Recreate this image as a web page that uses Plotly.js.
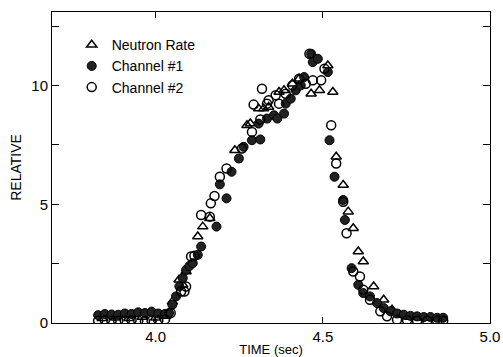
<!DOCTYPE html>
<html>
<head>
<meta charset="utf-8">
<script src="https://cdn.plot.ly/plotly-3.0.1.min.js"></script>
<style>html,body{margin:0;padding:0;background:#fff;}#chart{width:503px;height:357px;}</style>
</head>
<body>
<div id="chart"></div>
<script>
// Neutron Rate (open triangles)
const neutronX = [3.84,3.88,3.92,3.96,4.00,4.03,4.05,4.07,4.081,4.091,4.126,4.141,4.162,4.237,4.273,4.283,4.308,4.323,4.338,4.369,4.384,4.409,4.429,4.465,4.49,4.515,4.53,4.54,4.561,4.576,4.591,4.606,4.621,4.652,4.682,4.707,4.73,4.76,4.79,4.82];
const neutronY = [0.2,0.22,0.2,0.25,0.22,0.3,0.9,1.82,1.61,2.17,3.64,4.06,4.41,7.28,8.33,8.40,9.03,9.03,9.10,9.73,9.80,10.08,10.29,9.66,9.80,10.85,9.73,7.00,5.81,4.69,3.99,3.01,2.59,1.54,0.98,0.56,0.35,0.25,0.22,0.21];

// Channel #1 (filled circles)
const ch1X = [3.828,3.848,3.868,3.888,3.908,3.928,3.948,3.968,3.988,4.008,4.028,4.04,4.05,4.061,4.071,4.081,4.091,4.101,4.111,4.126,4.136,4.182,4.192,4.212,4.227,4.249,4.263,4.288,4.313,4.308,4.333,4.354,4.364,4.384,4.389,4.404,4.419,4.434,4.444,4.465,4.47,4.485,4.515,4.52,4.535,4.561,4.566,4.586,4.606,4.621,4.641,4.662,4.682,4.702,4.722,4.742,4.762,4.782,4.802,4.822,4.842,4.86];
const ch1Y = [0.33,0.38,0.36,0.35,0.40,0.38,0.45,0.42,0.48,0.40,0.38,0.42,0.77,1.12,1.54,1.89,2.24,2.40,2.52,2.87,3.22,4.06,5.84,5.25,6.37,6.93,7.42,7.70,7.73,8.40,8.61,8.75,8.61,8.82,9.24,9.45,9.80,10.01,10.36,11.34,10.99,11.13,10.57,7.70,6.16,5.18,4.34,2.31,1.61,1.26,1.12,0.84,0.63,0.49,0.40,0.35,0.30,0.28,0.25,0.25,0.22,0.22];

// Channel #2 (open circles)
const ch2X = [3.828,3.848,3.868,3.888,3.908,3.928,3.948,3.968,3.988,4.008,4.028,4.045,4.076,4.086,4.091,4.106,4.116,4.136,4.162,4.165,4.176,4.192,4.212,4.258,4.288,4.293,4.313,4.318,4.333,4.338,4.359,4.369,4.389,4.409,4.429,4.449,4.46,4.47,4.495,4.505,4.525,4.54,4.561,4.571,4.591,4.611,4.621,4.641,4.672,4.692,4.722,4.752,4.782,4.812,4.842,4.86];
const ch2Y = [0.10,0.12,0.08,0.10,0.10,0.12,0.10,0.08,0.10,0.12,0.15,0.42,1.33,1.33,1.54,2.80,2.83,4.55,4.48,5.04,5.35,6.16,6.51,7.35,8.05,9.20,8.57,9.87,9.24,9.38,9.59,9.24,9.66,10.01,10.29,10.08,11.34,10.22,10.22,10.71,8.33,6.72,5.11,3.78,2.17,1.96,1.40,0.98,0.49,0.28,0.14,0.12,0.10,0.10,0.10,0.10];

const xTicks = [4.0, 4.5, 5.0];
const xTickText = ['4.0', '4.5', '5.0'];
const yTicks = [0, 2.5, 5, 7.5, 10, 12.5];
const yTickText = ['0', '', '5', '', '10', ''];

const font = 'Liberation Sans, Arial, sans-serif';

const traces = [
  {x: neutronX, y: neutronY, name: 'Neutron Rate', mode: 'markers', type: 'scatter',
   marker: {symbol: 'triangle-up-open', size: 9, color: '#000', line: {width: 1.5, color: '#000'}}},
  {x: ch1X, y: ch1Y, name: 'Channel #1', mode: 'markers', type: 'scatter',
   marker: {symbol: 'circle', size: 9, color: '#222', line: {width: 1, color: '#000'}}},
  {x: ch2X, y: ch2Y, name: 'Channel #2', mode: 'markers', type: 'scatter',
   marker: {symbol: 'circle-open', size: 9, color: '#000', line: {width: 1.5, color: '#000'}}}
];

const layout = {
  width: 503, height: 357,
  margin: {l: 52, r: 13, t: 12, b: 34},
  paper_bgcolor: '#fff', plot_bgcolor: '#fff',
  font: {family: font, color: '#000', size: 14},
  showlegend: true,
  legend: {x: 0.045, y: 0.945, xanchor: 'left', yanchor: 'top', bgcolor: 'rgba(0,0,0,0)',
           font: {family: font, size: 14, color: '#000'}, tracegroupgap: 0, itemwidth: 30},
  xaxis: {range: [3.69, 5.0], tickvals: xTicks, ticktext: xTickText, ticks: 'inside', ticklen: 6,
          tickcolor: '#000', showline: true, linecolor: '#000', linewidth: 1, mirror: 'ticks',
          showgrid: false, zeroline: false, tickfont: {size: 15},
          title: {text: 'TIME (sec)', font: {size: 13}, standoff: 3}},
  yaxis: {range: [0, 13.1], tickvals: yTicks, ticktext: yTickText, ticks: 'inside', ticklen: 7,
          tickcolor: '#000', showline: true, linecolor: '#000', linewidth: 1, mirror: 'ticks',
          showgrid: false, zeroline: false, tickfont: {size: 15},
          title: {text: 'RELATIVE', font: {size: 14}, standoff: 6}}
};

Plotly.newPlot('chart', traces, layout, {displayModeBar: false, staticPlot: true});
</script>
</body>
</html>
